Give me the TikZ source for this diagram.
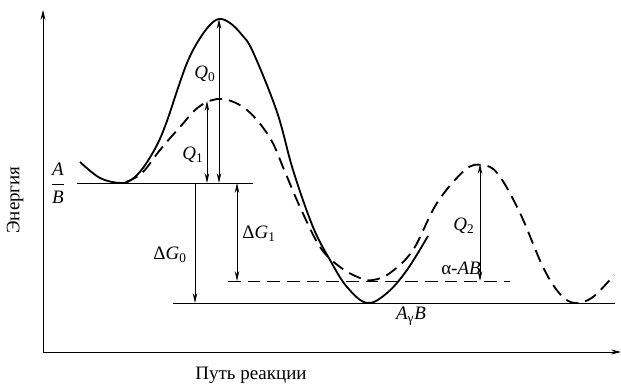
\documentclass[tikz,border=0pt]{standalone}
\usepackage{fontspec}
\setmainfont{Liberation Serif}
\usetikzlibrary{arrows.meta}
\begin{document}
\begin{tikzpicture}[x=0.025cm,y=-0.025cm,
		font=\fontsize{13.5}{16}\selectfont,
		curve/.style={line width=1.3pt,smooth,tension=0.6},
		level/.style={line width=0.7pt},
		dim/.style={line width=0.6pt,{Stealth[length=7pt,width=3.2pt]}-{Stealth[length=7pt,width=3.2pt]}},
		dimdown/.style={line width=0.6pt,-{Stealth[length=7pt,width=3.2pt]}}]
		\useasboundingbox (0,0) rectangle (621,387);
		% axes
		\coordinate (o) at (43,352);
		\coordinate (ytop) at (43,10);
		\coordinate (xend) at (621,352);
		\draw[line width=0.7pt,-{Stealth[length=7pt,width=3.5pt]}] (o)--(ytop);
		\draw[line width=0.7pt,-{Stealth[length=7pt,width=3.5pt]}] (o)--(xend);
		\node[rotate=90] (energy) at (15,200) {Энергия};
		\node (path) at (251,375) {Путь реакции};
		
		% levels
		\coordinate (ab1) at (77,183);
		\coordinate (ab2) at (253,183);
		\coordinate (g1) at (173,303);
		\coordinate (g2) at (615,303);
		\coordinate (al1) at (228,281);
		\coordinate (al2) at (510,281);
		\draw[level] (ab1)--(ab2);
		\draw[level] (g1)--(g2);
		\draw[level,dash pattern=on 9pt off 5pt] (al1)--(al2);
		\node (ab) at (58,183) {$\displaystyle\frac{\mbox{\itshape A}}{\mbox{\itshape B}}$};
		\node (agb) at (411,316) {\textit{A}\textsubscript{γ}\textit{B}};
		\node (aab) at (461,268) {α-\textit{AB}};
		
		% curves
		\draw[curve] plot coordinates {(80,162) (100,178) (120,183) (131,180) (143,168) (157,145) (167,121)
			(177,91) (187,63) (197,43) (209,26) (219,19) (230,23) (242,35) (253,52) (277,112) (293,170)
			(313,227) (330,260) (347,287) (367,303) (387,293) (407,270) (428,236)};
		\draw[curve,dash pattern=on 9pt off 5pt] plot coordinates {(126,182) (142,173) (160,150) (180,127)
			(200,106) (222,99) (247,110) (270,138) (285,172) (300,207) (320,247) (340,267) (360,278) (373,280)
			(390,273) (413,250) (437,203) (465,170) (482,165) (498,174) (520,213) (543,267) (560,294)
			(575,303) (593,297) (614,275)};
		
		% dimension arrows
		\coordinate (q0a) at (219,183);
		\coordinate (q0b) at (219,19);
		\coordinate (q1a) at (207,183);
		\coordinate (q1b) at (207,101);
		\coordinate (g0a) at (195,183);
		\coordinate (g0b) at (195,303);
		\coordinate (g1a) at (237,183);
		\coordinate (g1b) at (237,281);
		\coordinate (q2a) at (480,281);
		\coordinate (q2b) at (480,164);
		\draw[dim] (q0a)--(q0b);
		\draw[dim] (q1a)--(q1b);
		\draw[dimdown] (g0a)--(g0b);
		\draw[dim] (g1a)--(g1b);
		\draw[dim] (q2a)--(q2b);
		\node (q0) at (205,74) {\textit{Q}\textsubscript{0}};
		\node (q1) at (193,155) {\textit{Q}\textsubscript{1}};
		\node (q2) at (464,226) {\textit{Q}\textsubscript{2}};
		\node (dg0) at (170,255) {Δ\textit{G}\textsubscript{0}};
		\node (dg1) at (259,234) {Δ\textit{G}\textsubscript{1}};
	\end{tikzpicture}
\end{document}
